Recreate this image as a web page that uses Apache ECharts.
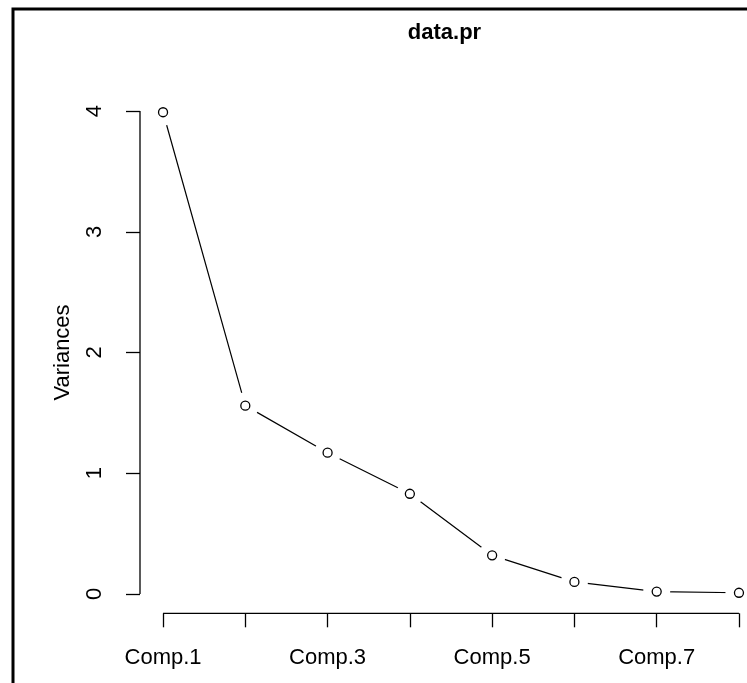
<!DOCTYPE html>
<html lang="en">

<head>
    <meta charset="UTF-8">
    <title>data.pr</title>
    <style>
        html,
        body {
            margin: 0;
            padding: 0;
            background: #fff;
        }
    </style>
</head>

<body>
    <div id="main" style="width: 747px;height:683px;"></div>
    <script src="https://cdn.jsdelivr.net/npm/echarts@6/dist/echarts.min.js"></script>
    <script type="text/javascript">
        // scree plot of data.pr
        var comps = ['Comp.1', 'Comp.2', 'Comp.3', 'Comp.4', 'Comp.5', 'Comp.6', 'Comp.7', 'Comp.8'];
        var variances = [3.99, 1.56, 1.17, 0.83, 0.32, 0.10, 0.02, 0.01];
        var xTicks = [1, 2, 3, 4, 5, 6, 7, 8];
        var xLabelsShown = [1, 3, 5, 7];
        var yTicks = [0, 1, 2, 3, 4];
        var xRange = [0.72, 8.28];
        var yRange = [-0.16, 4.16];

        var font = '"Liberation Sans", Arial, sans-serif';
        var points = variances.map(function (v, i) { return [xTicks[i], v]; });

        var myChart = echarts.init(document.getElementById('main'));
        var option = {
            animation: false,
            backgroundColor: '#fff',
            grid: {
                left: 140, top: 91.7, width: 622, height: 521.6,
                containLabel: false,
                outerBoundsMode: 'none'
            },
            xAxis: {
                type: 'value',
                min: xRange[0],
                max: xRange[1],
                axisLine: { show: false, onZero: false },
                splitLine: { show: false },
                axisTick: { show: true, inside: false, length: 14, customValues: xTicks, lineStyle: { color: '#000', width: 1.3 } },
                axisLabel: {
                    customValues: xLabelsShown,
                    margin: 34,
                    color: '#000',
                    fontSize: 22,
                    fontFamily: font,
                    formatter: function (v) { return comps[Math.round(v) - 1]; }
                }
            },
            yAxis: {
                type: 'value',
                min: yRange[0],
                max: yRange[1],
                name: 'Variances',
                nameLocation: 'middle',
                nameRotate: 90,
                nameGap: 66,
                nameMoveOverlap: false,
                nameTextStyle: { color: '#000', fontSize: 22, fontFamily: font },
                axisLine: { show: false, onZero: false },
                splitLine: { show: false },
                axisTick: { show: true, inside: false, length: 14, customValues: yTicks, lineStyle: { color: '#000', width: 1.3 } },
                axisLabel: {
                    customValues: yTicks,
                    rotate: 90,
                    margin: 34,
                    color: '#000',
                    fontSize: 22,
                    fontFamily: font
                }
            },
            graphic: [
                {
                    type: 'rect',
                    shape: { x: 13, y: 9, width: 900, height: 900 },
                    style: { fill: null, stroke: '#000', lineWidth: 3 }
                },
                {
                    type: 'text',
                    x: 444.5,
                    y: 33,
                    style: {
                        text: 'data.pr',
                        font: 'bold 22px ' + font,
                        fill: '#000',
                        textAlign: 'center',
                        textVerticalAlign: 'middle'
                    }
                }
            ],
            series: [
                // axis segments, R style (only span the ticks)
                {
                    type: 'line',
                    clip: false,
                    silent: true,
                    symbol: 'none',
                    lineStyle: { color: '#000', width: 1.3 },
                    data: [[xTicks[0], yRange[0]], [xTicks[xTicks.length - 1], yRange[0]]]
                },
                {
                    type: 'line',
                    clip: false,
                    silent: true,
                    symbol: 'none',
                    lineStyle: { color: '#000', width: 1.3 },
                    data: [[xRange[0], yTicks[0]], [xRange[0], yTicks[yTicks.length - 1]]]
                },
                // the line
                {
                    type: 'line',
                    clip: false,
                    z: 2,
                    symbol: 'none',
                    lineStyle: { color: '#000', width: 1.2 },
                    data: points
                },
                // white discs to leave gaps round the points, like type="b"
                {
                    type: 'scatter',
                    clip: false,
                    silent: true,
                    z: 3,
                    symbol: 'circle',
                    symbolSize: 27,
                    itemStyle: { color: '#fff', borderWidth: 0, opacity: 1 },
                    data: points
                },
                {
                    type: 'scatter',
                    clip: false,
                    z: 5,
                    symbol: 'circle',
                    symbolSize: 9,
                    itemStyle: { color: '#fff', borderColor: '#000', borderWidth: 1.3, opacity: 1 },
                    data: points
                }
            ]
        };
        myChart.setOption(option);
    </script>
</body>

</html>
